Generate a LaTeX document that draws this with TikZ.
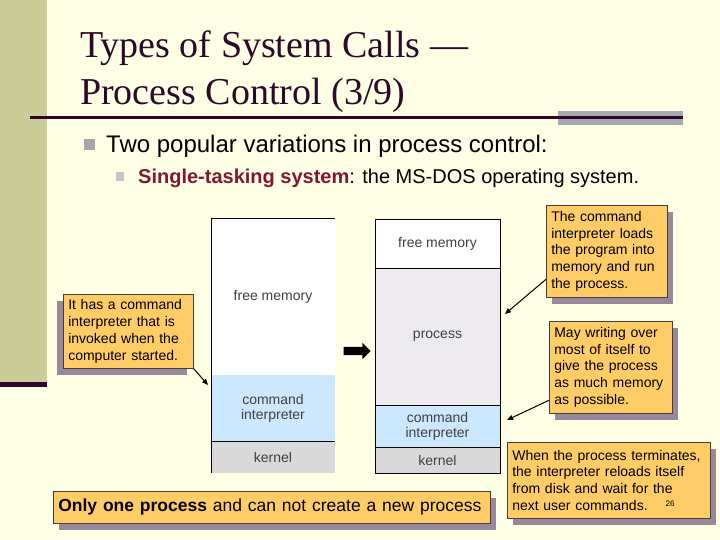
\documentclass[tikz,border=0pt]{standalone}
\usepackage{fontspec}
\setmainfont{Liberation Sans}
\newfontfamily\titlefont{Liberation Serif}
\usepackage{xcolor}
\usepackage{tikz}
\usetikzlibrary{arrows.meta,positioning,shapes.arrows,shadows}

\definecolor{slidebg}{RGB}{255,255,229}
\definecolor{stripolive}{RGB}{204,204,153}
\definecolor{titleplum}{RGB}{45,8,40}
\definecolor{rulegray}{RGB}{168,168,178}
\definecolor{accentred}{RGB}{128,24,48}
\definecolor{noteorange}{RGB}{255,204,102}
\definecolor{notecast}{RGB}{153,136,153}
\definecolor{cmdblue}{RGB}{204,232,255}
\definecolor{kernelgray}{RGB}{217,217,217}
\definecolor{procgray}{RGB}{237,234,240}

\begin{document}
\begin{tikzpicture}[x=1pt, y=-1pt,
    heading/.style={anchor=base west, inner sep=0pt, text=titleplum,
                    font=\titlefont\fontsize{38}{47}\selectfont},
    bulletsq/.style={inner sep=0pt, outer sep=0pt},
    memblk/.style={minimum width=124pt, inner sep=0pt, outer sep=0pt, align=center,
                   font=\fontsize{14}{15}\selectfont, text=black!75},
    rmemblk/.style={memblk, draw, line width=0.8pt, minimum width=125pt},
    callout/.style={draw=black!75, line width=0.6pt, fill=noteorange, anchor=north west,
                    inner xsep=5pt, inner ysep=2pt, align=left,
                    font=\fontsize{14}{16.8}\selectfont},
    castR/.style={drop shadow={shadow xshift=6pt, shadow yshift=-7pt, fill=notecast, opacity=1}},
    castL/.style={drop shadow={shadow xshift=-6pt, shadow yshift=-7pt, fill=notecast, opacity=1}},
    ptr/.style={-{Triangle[length=6pt,width=5pt]}, line width=1pt}
  ]
  % slide background
  \fill[slidebg] (0,0) rectangle (720,540);
  \useasboundingbox (0,0) rectangle (720,540);
  \fill[stripolive] (0,0) rectangle (47,382);
  \fill[titleplum] (0,382) rectangle (47,387);
  \fill[rulegray] (558,111) rectangle (683,125);
  \fill[titleplum] (30,116.5) rectangle (683,119.5);

  % title and bullets
  \node[heading] (title1) at (80,58) {Types of System Calls —};
  \node[heading] (title2) at (80,105) {Process Control (3/9)};

  \node[bulletsq, fill=black!35, minimum size=11pt] (dot1) at (89.5,144.5) {};
  \node[anchor=base west, inner sep=0pt, font=\fontsize{24}{27}\selectfont] (pt1) at (106,153)
    {Two popular variations in process control:};
  \node[bulletsq, fill=black!22, minimum size=8.5pt] (dot2) at (120,176.5) {};
  \node[anchor=base west, inner sep=0pt, font=\fontsize{20}{23}\selectfont] (pt2) at (138,184)
    {\textcolor{accentred}{\bfseries Single-tasking system}: the MS-DOS operating system.};

  % memory at start-up
  \node[memblk, fill=white, minimum height=157pt, anchor=north west] (lfree) at (211,218) {free memory};
  \node[memblk, fill=cmdblue, minimum height=66pt, below=0pt of lfree] (lcmd) {command\\interpreter};
  \node[memblk, fill=kernelgray, minimum height=32pt, below=0pt of lcmd] (lkern) {kernel};
  \draw[line width=0.8pt] (lfree.north east) -- (lfree.north west) -- (lkern.south west);
  \draw[line width=0.8pt] (lcmd.south west) -- (lcmd.south east);

  \node[single arrow, fill=black, minimum height=27pt, inner sep=4pt,
        single arrow head extend=4pt, single arrow head indent=0pt] (swap) at (355,351) {};

  % memory while running a program
  \node[rmemblk, fill=white, minimum height=49pt, anchor=north west] (rfree) at (375,219) {free memory};
  \node[rmemblk, fill=procgray, minimum height=137pt, below=0pt of rfree] (rproc) {process};
  \node[rmemblk, fill=cmdblue, minimum height=42pt, below=0pt of rproc] (rcmd) {command\\interpreter};
  \node[rmemblk, fill=kernelgray, minimum height=26pt, below=0pt of rcmd] (rkern) {kernel};

  % notes
  \node[callout, castL, text width=120pt, minimum height=74pt] (noteA) at (63,294)
    {It has a command\\interpreter that is\\invoked when the\\computer started.};
  \node[callout, castR, text width=111pt, minimum height=92pt] (noteB) at (546,205)
    {The command\\interpreter loads\\the program into\\memory and run\\the process.};
  \node[callout, castR, text width=113pt, minimum height=92pt] (noteC) at (549,321)
    {May writing over\\most of itself to\\give the process\\as much memory\\as possible.};
  \node[callout, castR, text width=193pt, minimum height=76pt] (noteD) at (507,442)
    {When the process terminates,\\the interpreter reloads itself\\from disk and wait for the\\next user commands.\hspace{18pt}\raisebox{4pt}{\fontsize{8}{8}\selectfont 26}};
  \node[callout, castR, text width=427pt, minimum height=32pt,
        font=\fontsize{17.5}{20}\selectfont] (noteE) at (53,491)
    {\textbf{Only one process} and can not create a new process};

  \coordinate (aimA) at (208,385);
  \coordinate (aimB) at (505,314);
  \coordinate (aimC) at (507,420);
  \draw[ptr] (noteA.south east) -- (aimA);
  \draw[ptr] ([yshift=-28pt]noteB.west) -- (aimB);
  \draw[ptr] ([yshift=-33pt]noteC.west) -- (aimC);
\end{tikzpicture}
\end{document}
